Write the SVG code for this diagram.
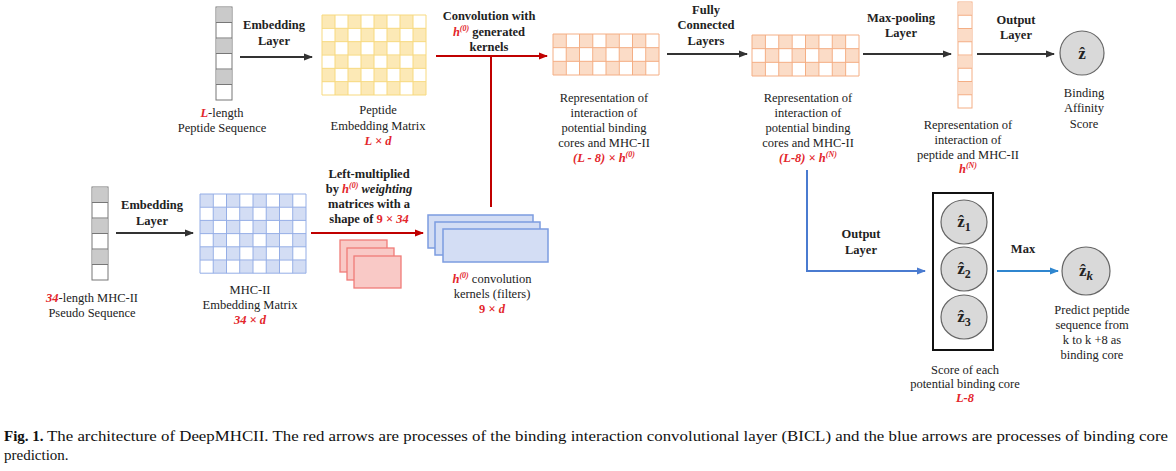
<svg xmlns="http://www.w3.org/2000/svg" width="1176" height="471" viewBox="0 0 1176 471">
<style>
text{font-family:"Liberation Serif","DejaVu Serif",serif;font-size:12.5px;fill:#222;text-anchor:middle}
.b{font-weight:bold}
.r{fill:#E3262B;font-weight:bold;font-style:italic}
.sup{font-size:8px}
.dk{stroke:#333;stroke-width:1.8;fill:none}
.rd{stroke:#C00000;stroke-width:2;fill:none}
.bl{stroke:#4A7BD0;stroke-width:2;fill:none}
.bl2{stroke:#2F86CF;stroke-width:2;fill:none}
.seq{fill:#fff;stroke:#777;stroke-width:1}
.gray{fill:#CACACA}
.zc{fill:#D9D9D9;stroke:#666;stroke-width:1.2}
.zt{font-weight:bold;font-size:17px}
.cap{text-anchor:start;font-size:15px;fill:#111}
</style>
<defs>
<marker id="ad" markerWidth="9" markerHeight="8" refX="8" refY="4" orient="auto" markerUnits="userSpaceOnUse"><path d="M0,0.5 L9,4 L0,7.5 Z" fill="#333"/></marker>
<marker id="ar" markerWidth="9" markerHeight="8" refX="8" refY="4" orient="auto" markerUnits="userSpaceOnUse"><path d="M0,0.5 L9,4 L0,7.5 Z" fill="#C00000"/></marker>
<marker id="ab" markerWidth="9" markerHeight="8" refX="8" refY="4" orient="auto" markerUnits="userSpaceOnUse"><path d="M0,0.5 L9,4 L0,7.5 Z" fill="#4A7BD0"/></marker>
<marker id="ab2" markerWidth="9" markerHeight="8" refX="8" refY="4" orient="auto" markerUnits="userSpaceOnUse"><path d="M0,0.5 L9,4 L0,7.5 Z" fill="#2F86CF"/></marker>
<pattern id="pY" patternUnits="userSpaceOnUse" x="322" y="15" width="26" height="26.667"><rect width="13" height="13.333" fill="#FCE9B6"/><rect x="13" y="13.333" width="13" height="13.333" fill="#FCE9B6"/></pattern>
<pattern id="pB" patternUnits="userSpaceOnUse" x="200" y="194" width="26.5" height="26.4"><rect width="13.25" height="13.2" fill="#D3DDF4"/><rect x="13.25" y="13.2" width="13.25" height="13.2" fill="#D3DDF4"/></pattern>
<pattern id="pO1" patternUnits="userSpaceOnUse" x="553" y="34" width="26.5" height="27.333"><rect width="13.25" height="13.667" fill="#FBDCC7"/><rect x="13.25" y="13.667" width="13.25" height="13.667" fill="#FBDCC7"/></pattern>
<pattern id="pO2" patternUnits="userSpaceOnUse" x="752" y="35" width="26.75" height="27.333"><rect width="13.375" height="13.667" fill="#FBDCC7"/><rect x="13.375" y="13.667" width="13.375" height="13.667" fill="#FBDCC7"/></pattern>
</defs>

<g id="connectors">
<line class="dk" x1="240" y1="57" x2="312" y2="57" marker-end="url(#ad)"/>
<line class="dk" x1="116" y1="233" x2="193" y2="233" marker-end="url(#ad)"/>
<line class="rd" x1="436" y1="56" x2="547" y2="56" marker-end="url(#ar)"/>
<line class="rd" x1="491" y1="56" x2="491" y2="207"/>
<line class="rd" x1="311" y1="233" x2="423" y2="233" marker-end="url(#ar)"/>
<line class="dk" x1="667" y1="54" x2="747" y2="54" marker-end="url(#ad)"/>
<line class="dk" x1="863" y1="54" x2="951" y2="54" marker-end="url(#ad)"/>
<line class="dk" x1="977" y1="54" x2="1054" y2="54" marker-end="url(#ad)"/>
<path class="bl" d="M807,170 V271 H925" marker-end="url(#ab)"/>
<line class="bl2" x1="997" y1="271" x2="1058" y2="271" marker-end="url(#ab2)"/>
</g>

<g id="peptide-seq">
<rect class="seq" x="216" y="7" width="16" height="93"/>
<rect class="gray" x="216.5" y="7.5" width="15" height="15"/>
<rect class="gray" x="216.5" y="38.5" width="15" height="15"/>
<rect class="gray" x="216.5" y="69.5" width="15" height="15"/>
<path d="M216,22.5H232M216,38H232M216,53.5H232M216,69H232M216,84.5H232" stroke="#777" stroke-width="1"/>
<text x="222" y="117"><tspan class="r">L</tspan>-length</text>
<text x="222" y="132">Peptide Sequence</text>
</g>

<g id="peptide-matrix">
<rect x="322" y="15" width="104" height="80" fill="#fff"/>
<rect x="322" y="15" width="104" height="80" fill="url(#pY)"/>
<path d="M322,15V95M335,15V95M348,15V95M361,15V95M374,15V95M387,15V95M400,15V95M413,15V95M426,15V95M322,15H426M322,28.33H426M322,41.67H426M322,55H426M322,68.33H426M322,81.67H426M322,95H426" stroke="#F7D97E" stroke-width="1" fill="none"/>
<text x="378" y="114">Peptide</text>
<text x="378" y="130">Embedding Matrix</text>
<text x="378" y="145" class="r">L × d</text>
</g>

<g id="rep1">
<rect x="553" y="34" width="106" height="41" fill="#fff"/>
<rect x="553" y="34" width="106" height="41" fill="url(#pO1)"/>
<path d="M553,34V75M566.25,34V75M579.5,34V75M592.75,34V75M606,34V75M619.25,34V75M632.5,34V75M645.75,34V75M659,34V75M553,34H659M553,47.67H659M553,61.33H659M553,75H659" stroke="#F4AE84" stroke-width="1" fill="none"/>
<text x="604" y="102">Representation of</text>
<text x="604" y="117">interaction of</text>
<text x="604" y="132">potential binding</text>
<text x="604" y="147">cores and MHC-II</text>
<text x="604" y="162" class="r">(L - 8) × h<tspan class="sup" dy="-5">(0)</tspan></text>
</g>

<g id="rep2">
<rect x="752" y="35" width="107" height="41" fill="#fff"/>
<rect x="752" y="35" width="107" height="41" fill="url(#pO2)"/>
<path d="M752,35V76M765.38,35V76M778.75,35V76M792.13,35V76M805.5,35V76M818.88,35V76M832.25,35V76M845.63,35V76M859,35V76M752,35H859M752,48.67H859M752,62.33H859M752,76H859" stroke="#F4AE84" stroke-width="1" fill="none"/>
<text x="808" y="102">Representation of</text>
<text x="808" y="117">interaction of</text>
<text x="808" y="132">potential binding</text>
<text x="808" y="147">cores and MHC-II</text>
<text x="808" y="162" class="r">(L-8) × h<tspan class="sup" dy="-5">(N)</tspan></text>
</g>

<g id="rep3">
<rect x="958" y="2" width="14" height="106" fill="#fff" stroke="#F4AE84" stroke-width="1"/>
<rect x="958.5" y="2.5" width="13" height="12.75" fill="#FBDCC7"/>
<rect x="958.5" y="29" width="13" height="12.75" fill="#FBDCC7"/>
<rect x="958.5" y="55.5" width="13" height="12.75" fill="#FBDCC7"/>
<rect x="958.5" y="82" width="13" height="12.75" fill="#FBDCC7"/>
<path d="M958,15.25H972M958,28.5H972M958,41.75H972M958,55H972M958,68.25H972M958,81.5H972M958,94.75H972" stroke="#F4AE84" stroke-width="1"/>
<text x="968" y="129">Representation of</text>
<text x="968" y="144">interaction of</text>
<text x="968" y="159">peptide and MHC-II</text>
<text x="968" y="173" class="r">h<tspan class="sup" dy="-5">(N)</tspan></text>
</g>

<g id="affinity">
<circle class="zc" cx="1082" cy="53" r="22"/>
<text x="1082" y="59" class="zt">ẑ</text>
<text x="1084" y="97">Binding</text>
<text x="1084" y="112">Affinity</text>
<text x="1084" y="128">Score</text>
</g>

<g id="mhc-seq">
<rect class="seq" x="92" y="187" width="16" height="93"/>
<rect class="gray" x="92.5" y="187.5" width="15" height="15"/>
<rect class="gray" x="92.5" y="218.5" width="15" height="15"/>
<rect class="gray" x="92.5" y="249.5" width="15" height="15"/>
<path d="M92,202.5H108M92,218H108M92,233.5H108M92,249H108M92,264.5H108" stroke="#777" stroke-width="1"/>
<text x="92" y="302"><tspan class="r">34</tspan>-length MHC-II</text>
<text x="92" y="317">Pseudo Sequence</text>
</g>

<g id="mhc-matrix">
<rect x="200" y="194" width="106" height="79.2" fill="#fff"/>
<rect x="200" y="194" width="106" height="79.2" fill="url(#pB)"/>
<path d="M200,194V273.2M213.25,194V273.2M226.5,194V273.2M239.75,194V273.2M253,194V273.2M266.25,194V273.2M279.5,194V273.2M292.75,194V273.2M306,194V273.2M200,194H306M200,207.2H306M200,220.4H306M200,233.6H306M200,246.8H306M200,260H306M200,273.2H306" stroke="#95AEE6" stroke-width="1" fill="none"/>
<text x="250" y="294">MHC-II</text>
<text x="250" y="309">Embedding Matrix</text>
<text x="250" y="324" class="r">34 × d</text>
</g>

<g id="weights">
<rect x="340" y="240" width="47" height="32" fill="#F9C9C6" stroke="#F07C78" stroke-width="1.3"/>
<rect x="347" y="248" width="47" height="32" fill="#F9C9C6" stroke="#F07C78" stroke-width="1.3"/>
<rect x="354" y="256" width="47" height="32" fill="#F9C9C6" stroke="#F07C78" stroke-width="1.3"/>
</g>

<g id="kernels">
<rect x="428" y="215" width="105" height="33" fill="#D3DDF4" stroke="#7C9CE0" stroke-width="1.5"/>
<rect x="435" y="222" width="105" height="33" fill="#D3DDF4" stroke="#7C9CE0" stroke-width="1.5"/>
<rect x="443" y="229" width="105" height="33" fill="#D3DDF4" stroke="#7C9CE0" stroke-width="1.5"/>
<text x="492" y="283"><tspan class="r">h<tspan class="sup" dy="-5">(0)</tspan></tspan><tspan dy="5"> convolution</tspan></text>
<text x="492" y="298">kernels (filters)</text>
<text x="492" y="313" class="r" style="font-style:normal">9 × <tspan style="font-style:italic">d</tspan></text>
</g>

<g id="labels">
<text x="274" y="29" class="b">Embedding</text>
<text x="274" y="45" class="b">Layer</text>
<text x="152" y="209" class="b">Embedding</text>
<text x="152" y="225" class="b">Layer</text>
<text x="489" y="20" class="b">Convolution with</text>
<text x="489" y="36" class="b"><tspan class="r">h<tspan class="sup" dy="-5">(0)</tspan></tspan><tspan dy="5"> generated</tspan></text>
<text x="489" y="51" class="b">kernels</text>
<text x="706" y="14" class="b">Fully</text>
<text x="706" y="29" class="b">Connected</text>
<text x="706" y="45" class="b">Layers</text>
<text x="901" y="22" class="b">Max-pooling</text>
<text x="901" y="37" class="b">Layer</text>
<text x="1016" y="24" class="b">Output</text>
<text x="1016" y="39" class="b">Layer</text>
<text x="369" y="178" class="b">Left-multiplied</text>
<text x="369" y="193" class="b">by <tspan class="r">h<tspan class="sup" dy="-5">(0)</tspan></tspan><tspan dy="5" font-style="italic"> weighting</tspan></text>
<text x="369" y="208" class="b">matrices with a</text>
<text x="369" y="223" class="b">shape of  <tspan class="r" style="font-style:normal">9 × </tspan><tspan class="r">34</tspan></text>
<text x="861" y="238" class="b">Output</text>
<text x="861" y="254" class="b">Layer</text>
<text x="1023" y="253" class="b">Max</text>
</g>

<g id="scores">
<rect x="933" y="193" width="60" height="157" fill="#fff" stroke="#111" stroke-width="2"/>
<ellipse class="zc" cx="964" cy="222" rx="23" ry="22"/>
<ellipse class="zc" cx="964" cy="269" rx="23" ry="22"/>
<ellipse class="zc" cx="964" cy="317" rx="23" ry="22"/>
<text x="964" y="227" class="zt">ẑ<tspan font-size="12" dy="4">1</tspan></text>
<text x="964" y="274" class="zt">ẑ<tspan font-size="12" dy="4">2</tspan></text>
<text x="964" y="322" class="zt">ẑ<tspan font-size="12" dy="4">3</tspan></text>
<text x="965" y="374">Score of each</text>
<text x="965" y="388">potential binding core</text>
<text x="965" y="402" class="r">L-8</text>
</g>

<g id="predict">
<circle class="zc" cx="1086" cy="271" r="24"/>
<text x="1086" y="276" class="zt">ẑ<tspan font-size="13" font-style="italic" dy="4">k</tspan></text>
<text x="1092" y="314">Predict peptide</text>
<text x="1092" y="329">sequence from</text>
<text x="1092" y="344">k to k +8 as</text>
<text x="1092" y="359">binding core</text>
</g>

<g id="caption">
<text x="4" y="441" class="cap" font-weight="bold">Fig. 1.</text>
<text x="47" y="441" class="cap" textLength="1121" lengthAdjust="spacingAndGlyphs">The architecture of DeepMHCII. The red arrows are processes of the binding interaction convolutional layer (BICL) and the blue arrows are processes of binding core</text>
<text x="4" y="460" class="cap">prediction.</text>
</g>
</svg>
